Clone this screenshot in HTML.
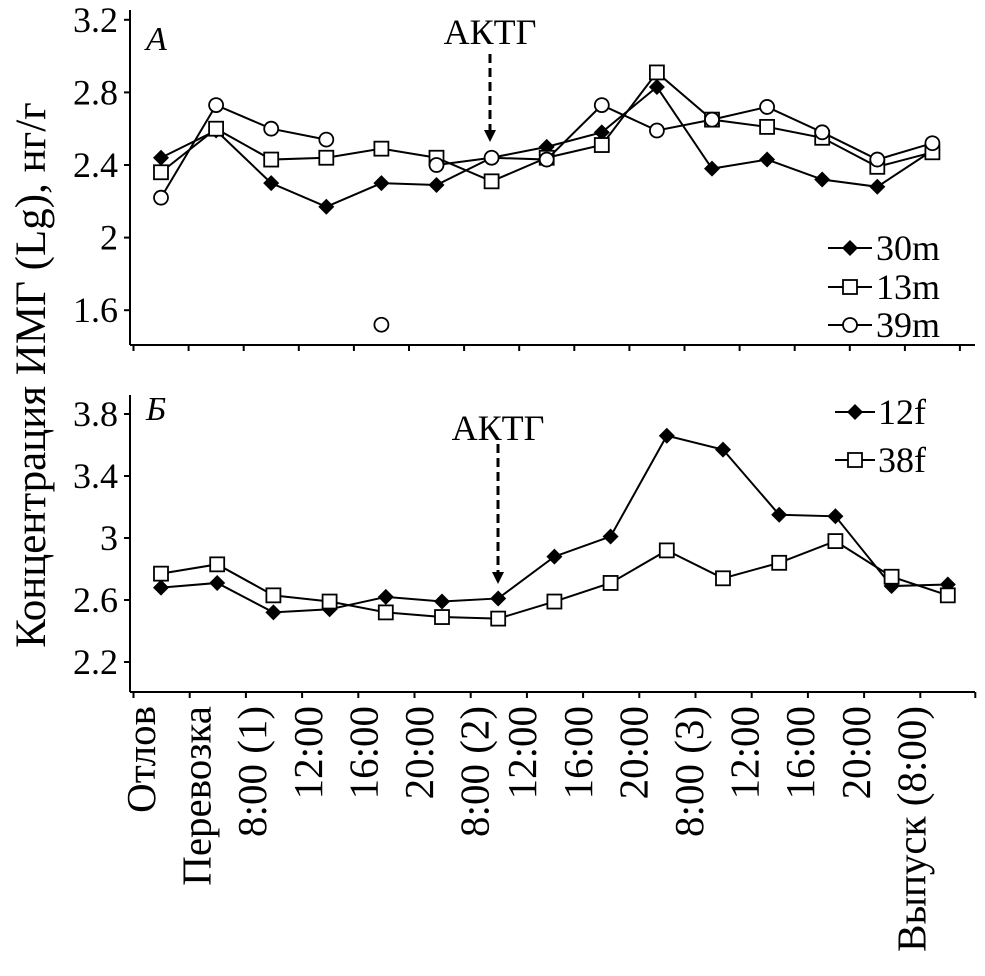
<!DOCTYPE html>
<html><head><meta charset="utf-8"><style>
body{margin:0;background:#fff}
svg text{font-family:"Liberation Serif",serif;fill:#000}
</style></head><body>
<svg width="985" height="971" viewBox="0 0 985 971" id="c"></svg>
<script>
const categories=["Отлов","Перевозка","8:00 (1)","12:00","16:00","20:00","8:00 (2)","12:00","16:00","20:00","8:00 (3)","12:00","16:00","20:00","Выпуск (8:00)"];
const s30m=[2.44,2.59,2.30,2.17,2.30,2.29,2.44,2.50,2.58,2.83,2.38,2.43,2.32,2.28,2.48];
const s13m=[2.36,2.60,2.43,2.44,2.49,2.44,2.31,2.44,2.51,2.91,2.65,2.61,2.55,2.39,2.47];
const s39m=[2.22,2.73,2.60,2.54,null,2.40,2.44,2.43,2.73,2.59,2.65,2.72,2.58,2.43,2.52];
const s39mOutlier={index:4,value:1.52};
const s12f=[2.68,2.71,2.52,2.54,2.62,2.59,2.61,2.88,3.01,3.66,3.57,3.15,3.14,2.69,2.70];
const s38f=[2.77,2.83,2.63,2.59,2.52,2.49,2.48,2.59,2.71,2.92,2.74,2.84,2.98,2.75,2.63];
const ticksA=[1.6,2,2.4,2.8,3.2];
const ticksB=[2.2,2.6,3,3.4,3.8];
const NS="http://www.w3.org/2000/svg",svg=document.getElementById('c');
function el(t,a,p){const e=document.createElementNS(NS,t);for(const k in a)e.setAttribute(k,a[k]);(p||svg).appendChild(e);return e;}
const xA=i=>161+i*55.1, xB=i=>161+i*56.2;
const yA=v=>165-(v-2.4)*181.5, yB=v=>600-(v-2.6)*155;
function axes(name,x0,y0,y1,yS,ticks,xS){
 const g=el('g',{});
 el('line',{x1:130,y1:y0,x2:130,y2:y1,stroke:'#000','stroke-width':2},g);
 el('line',{x1:130,y1:y1,x2:975,y2:y1,stroke:'#000','stroke-width':2},g);
 ticks.forEach(t=>{const y=yS(t);el('line',{x1:124,y1:y,x2:130,y2:y,stroke:'#000','stroke-width':2},g);
  const tx=el('text',{x:118,y:y+12,'font-size':36,'text-anchor':'end'},g);tx.textContent=String(t);
  });
 categories.forEach((c,i)=>{const x=xS(i)-27.5;el('line',{x1:x,y1:y1,x2:x,y2:y1+6,stroke:'#000','stroke-width':2},g);});
 el('line',{x1:xS(14)+27.5,y1:y1,x2:xS(14)+27.5,y2:y1+6,stroke:'#000','stroke-width':2},g);
}
axes('axes-a',130,10,345,yA,ticksA,xA);
axes('axes-b',130,395,692,yB,ticksB,xB);
function marker(type,x,y,g){
 if(type==='d')el('polygon',{points:`${x},${y-8} ${x+8},${y} ${x},${y+8} ${x-8},${y}`,fill:'#000'},g);
 else if(type==='s')el('rect',{x:x-7,y:y-7,width:14,height:14,fill:'#fff',stroke:'#000','stroke-width':1.8},g);
 else el('circle',{cx:x,cy:y,r:7,fill:'#fff',stroke:'#000','stroke-width':1.8},g);
}
function series(name,data,xS,yS,type){
 const g=el('g',{});
 let d='',pen=false;data.forEach((v,i)=>{if(v==null){pen=false;return;}d+=(pen?'L':'M')+xS(i)+','+yS(v);pen=true;});
 el('path',{d:d,fill:'none',stroke:'#000','stroke-width':2},g);
 data.forEach((v,i)=>{if(v!=null)marker(type,xS(i),yS(v),g);});
 return g;
}
series('series-30m',s30m,xA,yA,'d');
series('series-13m',s13m,xA,yA,'s');
const g39=series('series-39m',s39m,xA,yA,'c');
marker('c',xA(s39mOutlier.index),yA(s39mOutlier.value),g39);
series('series-12f',s12f,xB,yB,'d');
series('series-38f',s38f,xB,yB,'s');
categories.forEach((c,i)=>{const x=xB(i)-6+(i>6?-8:0)-(i*0.6);
 const t=el('text',{x:0,y:0,'font-size':41,'text-anchor':'end',transform:`translate(${x},706) rotate(-90)`});
 t.textContent=c;});
function leg(name,lbl,type,x1,x2,y,tx){const g=el('g',{});
 el('line',{x1:x1,y1:y,x2:x2,y2:y,stroke:'#000','stroke-width':2},g);marker(type,(x1+x2)/2,y,g);
 const t=el('text',{x:tx,y:y+12,'font-size':36},g);t.textContent=lbl;}
leg('legend-30m','30m','d',828,872,248,876);
leg('legend-13m','13m','s',828,872,287,876);
leg('legend-39m','39m','c',828,872,325,876);
leg('legend-12f','12f','d',835,875,412,878);
leg('legend-38f','38f','s',835,875,460,878);
function arrow(name,x,y1,y2,ty){const g=el('g',{});
 el('line',{x1:x,y1:y1,x2:x,y2:y2-10,stroke:'#000','stroke-width':3,'stroke-dasharray':'9,5'},g);
 el('polygon',{points:`${x-6},${y2-12} ${x+6},${y2-12} ${x},${y2}`,fill:'#000'},g);
 const t=el('text',{x:x,y:ty,'font-size':36,'text-anchor':'middle'},g);t.textContent='АКТГ';}
arrow('acth-arrow-a',490,54,142,44);
arrow('acth-arrow-b',498,444,584,440);
let t=el('text',{x:146,y:50,'font-size':34,'font-style':'italic'});t.textContent='А';
t=el('text',{x:146,y:420,'font-size':34,'font-style':'italic'});t.textContent='Б';
t=el('text',{x:0,y:0,'font-size':43,'text-anchor':'middle',transform:'translate(45,375) rotate(-90)'});t.textContent='Концентрация ИМГ (Lg), нг/г';

</script>
</body></html>
